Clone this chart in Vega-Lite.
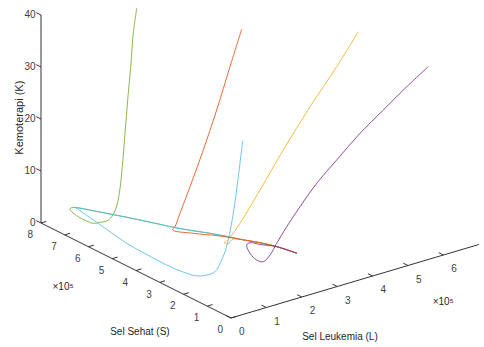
{
  "$schema": "https://vega.github.io/schema/vega-lite/v6.json",
  "width": 484,
  "height": 347,
  "autosize": {"type": "fit", "contains": "padding"},
  "padding": 0,
  "background": "white",
  "config": {"view": {"stroke": null}},
  "datasets": {
    "axes": [
      {"axis": "S", "v0": 0, "v1": 8},
      {"axis": "L", "v0": 0, "v1": 7},
      {"axis": "K", "v0": 0, "v1": 40}
    ],
    "ticks": [
      {"axis": "S", "v": 0}, {"axis": "S", "v": 1}, {"axis": "S", "v": 2}, {"axis": "S", "v": 3},
      {"axis": "S", "v": 4}, {"axis": "S", "v": 5}, {"axis": "S", "v": 6}, {"axis": "S", "v": 7}, {"axis": "S", "v": 8},
      {"axis": "L", "v": 0}, {"axis": "L", "v": 1}, {"axis": "L", "v": 2}, {"axis": "L", "v": 3},
      {"axis": "L", "v": 4}, {"axis": "L", "v": 5}, {"axis": "L", "v": 6},
      {"axis": "K", "v": 0}, {"axis": "K", "v": 10}, {"axis": "K", "v": 20}, {"axis": "K", "v": 30}, {"axis": "K", "v": 40}
    ],
    "titles": [
      {"text": "Sel Sehat (S)", "S": 0.69, "L": -2.11, "K": 0},
      {"text": "Sel Leukemia (L)", "S": -2.71, "L": 1.26, "K": 0},
      {"text": "×10⁵", "S": 4.27, "L": -1.88, "K": 0},
      {"text": "×10⁵", "S": -2.48, "L": 4.33, "K": 0}
    ],
    "ztitle": [
      {"text": "Kemoterapi (K)", "S": 8.9, "L": 0, "K": 18.2}
    ],
    "curves": [
      {"c": "c1", "t": 0, "S": 7.08, "L": 2.086, "K": 39.18},
      {"c": "c1", "t": 1, "S": 7.08, "L": 1.99, "K": 34.56},
      {"c": "c1", "t": 2, "S": 7.08, "L": 1.917, "K": 28.29},
      {"c": "c1", "t": 3, "S": 7.08, "L": 1.832, "K": 22.06},
      {"c": "c1", "t": 4, "S": 7.08, "L": 1.756, "K": 15.81},
      {"c": "c1", "t": 5, "S": 7.08, "L": 1.679, "K": 9.54},
      {"c": "c1", "t": 6, "S": 7.08, "L": 1.595, "K": 4.59},
      {"c": "c1", "t": 7, "S": 7.08, "L": 1.501, "K": 1.9},
      {"c": "c1", "t": 8, "S": 7.08, "L": 1.38, "K": 0.53},
      {"c": "c1", "t": 9, "S": 7.048, "L": 1.218, "K": 0.1},
      {"c": "c1", "t": 10, "S": 7.085, "L": 1.053, "K": 0.1},
      {"c": "c1", "t": 11, "S": 7.08, "L": 0.86, "K": 0.3},
      {"c": "c1", "t": 12, "S": 7.252, "L": 0.789, "K": 0.5},
      {"c": "c1", "t": 13, "S": 7.501, "L": 0.718, "K": 0.9},
      {"c": "c1", "t": 14, "S": 7.731, "L": 0.687, "K": 1.4},
      {"c": "c1", "t": 15, "S": 7.791, "L": 0.679, "K": 1.8},
      {"c": "c1", "t": 16, "S": 7.783, "L": 0.73, "K": 2.0},
      {"c": "c1", "t": 17, "S": 7.689, "L": 0.808, "K": 2.0},
      {"c": "c1", "t": 18, "S": 7.34, "L": 1.026, "K": 1.8},
      {"c": "c1", "t": 19, "S": 6.954, "L": 1.248, "K": 1.6},
      {"c": "c1", "t": 20, "S": 6.568, "L": 1.469, "K": 1.4},
      {"c": "c1", "t": 21, "S": 6.193, "L": 1.669, "K": 1.2},
      {"c": "c1", "t": 22, "S": 5.791, "L": 1.879, "K": 1.0},
      {"c": "c1", "t": 23, "S": 5.384, "L": 2.087, "K": 0.8},
      {"c": "c1", "t": 24, "S": 5.031, "L": 2.302, "K": 0.65},
      {"c": "c1", "t": 25, "S": 4.669, "L": 2.539, "K": 0.5},
      {"c": "c1", "t": 26, "S": 4.261, "L": 2.746, "K": 0.4},
      {"c": "c1", "t": 27, "S": 3.863, "L": 2.93, "K": 0.3},
      {"c": "c1", "t": 28, "S": 3.47, "L": 3.147, "K": 0.2},
      {"c": "c1", "t": 29, "S": 3.02, "L": 3.325, "K": 0.1},
      {"c": "c1", "t": 30, "S": 2.385, "L": 3.464, "K": 0},

      {"c": "c2", "t": 0, "S": 2.535, "L": 2.031, "K": 24.21},
      {"c": "c2", "t": 1, "S": 2.535, "L": 1.907, "K": 17.53},
      {"c": "c2", "t": 2, "S": 2.535, "L": 1.766, "K": 10.78},
      {"c": "c2", "t": 3, "S": 2.535, "L": 1.624, "K": 5.93},
      {"c": "c2", "t": 4, "S": 2.535, "L": 1.545, "K": 4.17},
      {"c": "c2", "t": 5, "S": 2.535, "L": 1.438, "K": 2.46},
      {"c": "c2", "t": 6, "S": 2.535, "L": 1.249, "K": 0.59},
      {"c": "c2", "t": 7, "S": 2.553, "L": 1.035, "K": 0.35},
      {"c": "c2", "t": 8, "S": 2.623, "L": 0.884, "K": 0.3},
      {"c": "c2", "t": 9, "S": 2.77, "L": 0.785, "K": 0.3},
      {"c": "c2", "t": 10, "S": 2.975, "L": 0.745, "K": 0.3},
      {"c": "c2", "t": 11, "S": 3.456, "L": 0.68, "K": 0.35},
      {"c": "c2", "t": 12, "S": 3.979, "L": 0.664, "K": 0.4},
      {"c": "c2", "t": 13, "S": 4.704, "L": 0.67, "K": 0.5},
      {"c": "c2", "t": 14, "S": 5.419, "L": 0.689, "K": 0.6},
      {"c": "c2", "t": 15, "S": 6.239, "L": 0.768, "K": 0.8},
      {"c": "c2", "t": 16, "S": 7.009, "L": 0.813, "K": 1.2},
      {"c": "c2", "t": 17, "S": 7.572, "L": 0.814, "K": 1.7},
      {"c": "c2", "t": 18, "S": 7.747, "L": 0.791, "K": 2.0},
      {"c": "c2", "t": 19, "S": 7.632, "L": 0.855, "K": 2.0},
      {"c": "c2", "t": 20, "S": 7.34, "L": 1.026, "K": 1.8},
      {"c": "c2", "t": 21, "S": 6.954, "L": 1.248, "K": 1.6},
      {"c": "c2", "t": 22, "S": 6.568, "L": 1.469, "K": 1.4},
      {"c": "c2", "t": 23, "S": 6.193, "L": 1.669, "K": 1.2},
      {"c": "c2", "t": 24, "S": 5.791, "L": 1.879, "K": 1.0},
      {"c": "c2", "t": 25, "S": 5.384, "L": 2.087, "K": 0.8},
      {"c": "c2", "t": 26, "S": 5.031, "L": 2.302, "K": 0.65},
      {"c": "c2", "t": 27, "S": 4.669, "L": 2.539, "K": 0.5},
      {"c": "c2", "t": 28, "S": 4.261, "L": 2.746, "K": 0.4},
      {"c": "c2", "t": 29, "S": 3.863, "L": 2.93, "K": 0.3},
      {"c": "c2", "t": 30, "S": 3.47, "L": 3.147, "K": 0.2},
      {"c": "c2", "t": 31, "S": 3.02, "L": 3.325, "K": 0.1},
      {"c": "c2", "t": 32, "S": 2.385, "L": 3.464, "K": 0},

      {"c": "c3", "t": 0, "S": 3.99, "L": 6.273, "K": 33.28},
      {"c": "c3", "t": 1, "S": 3.99, "L": 5.663, "K": 27.78},
      {"c": "c3", "t": 2, "S": 3.99, "L": 4.908, "K": 21.61},
      {"c": "c3", "t": 3, "S": 3.99, "L": 4.154, "K": 14.81},
      {"c": "c3", "t": 4, "S": 3.99, "L": 3.496, "K": 8.44},
      {"c": "c3", "t": 5, "S": 3.99, "L": 2.931, "K": 3.18},
      {"c": "c3", "t": 6, "S": 3.99, "L": 2.649, "K": 1.06},
      {"c": "c3", "t": 7, "S": 3.99, "L": 2.536, "K": 0.48},
      {"c": "c3", "t": 8, "S": 3.99, "L": 2.479, "K": 0.4},
      {"c": "c3", "t": 9, "S": 3.874, "L": 2.514, "K": 0.35},
      {"c": "c3", "t": 10, "S": 4.062, "L": 2.782, "K": 0.3},
      {"c": "c3", "t": 11, "S": 3.863, "L": 2.93, "K": 0.3},
      {"c": "c3", "t": 12, "S": 3.47, "L": 3.147, "K": 0.2},
      {"c": "c3", "t": 13, "S": 3.02, "L": 3.325, "K": 0.1},
      {"c": "c3", "t": 14, "S": 2.385, "L": 3.464, "K": 0},

      {"c": "c4", "t": 0, "S": 5.345, "L": 3.888, "K": 35.46},
      {"c": "c4", "t": 1, "S": 5.345, "L": 3.558, "K": 28.94},
      {"c": "c4", "t": 2, "S": 5.345, "L": 3.182, "K": 21.37},
      {"c": "c4", "t": 3, "S": 5.345, "L": 2.803, "K": 14.44},
      {"c": "c4", "t": 4, "S": 5.345, "L": 2.428, "K": 8.14},
      {"c": "c4", "t": 5, "S": 5.345, "L": 2.145, "K": 3.6},
      {"c": "c4", "t": 6, "S": 5.345, "L": 2.004, "K": 1.31},
      {"c": "c4", "t": 7, "S": 5.345, "L": 1.939, "K": 0.8},
      {"c": "c4", "t": 8, "S": 4.903, "L": 2.224, "K": 0.6},
      {"c": "c4", "t": 9, "S": 4.383, "L": 2.63, "K": 0.45},
      {"c": "c4", "t": 10, "S": 3.863, "L": 2.93, "K": 0.3},
      {"c": "c4", "t": 11, "S": 3.47, "L": 3.147, "K": 0.2},
      {"c": "c4", "t": 12, "S": 3.02, "L": 3.325, "K": 0.1},
      {"c": "c4", "t": 13, "S": 2.385, "L": 3.464, "K": 0},

      {"c": "c5", "t": 0, "S": 1.0, "L": 6.244, "K": 33.44},
      {"c": "c5", "t": 1, "S": 1.15, "L": 5.639, "K": 29.83},
      {"c": "c5", "t": 2, "S": 1.3, "L": 5.175, "K": 26.58},
      {"c": "c5", "t": 3, "S": 1.45, "L": 4.617, "K": 22.88},
      {"c": "c5", "t": 4, "S": 1.6, "L": 4.059, "K": 18.53},
      {"c": "c5", "t": 5, "S": 1.75, "L": 3.595, "K": 14.65},
      {"c": "c5", "t": 6, "S": 1.9, "L": 3.224, "K": 10.56},
      {"c": "c5", "t": 7, "S": 2.05, "L": 2.949, "K": 6.92},
      {"c": "c5", "t": 8, "S": 2.2, "L": 2.767, "K": 3.75},
      {"c": "c5", "t": 9, "S": 2.3, "L": 2.645, "K": 1.52},
      {"c": "c5", "t": 10, "S": 2.387, "L": 2.514, "K": 0.3},
      {"c": "c5", "t": 11, "S": 2.58, "L": 2.457, "K": 0.3},
      {"c": "c5", "t": 12, "S": 3.026, "L": 2.567, "K": 0.35},
      {"c": "c5", "t": 13, "S": 3.502, "L": 2.793, "K": 0.4},
      {"c": "c5", "t": 14, "S": 3.586, "L": 2.943, "K": 0.35},
      {"c": "c5", "t": 15, "S": 3.362, "L": 3.075, "K": 0.25},
      {"c": "c5", "t": 16, "S": 3.02, "L": 3.325, "K": 0.1},
      {"c": "c5", "t": 17, "S": 2.385, "L": 3.464, "K": 0}
    ]
  },
  "layer": [
    {
      "data": {"name": "axes"},
      "transform": [
        {"calculate": "datum.axis === 'S' ? datum.v0 : (datum.axis === 'K' ? 8 : 0)", "as": "Sa"},
        {"calculate": "datum.axis === 'S' ? datum.v1 : (datum.axis === 'K' ? 8 : 0)", "as": "Sb"},
        {"calculate": "datum.axis === 'L' ? datum.v0 : 0", "as": "La"},
        {"calculate": "datum.axis === 'L' ? datum.v1 : 0", "as": "Lb"},
        {"calculate": "datum.axis === 'K' ? datum.v0 : 0", "as": "Ka"},
        {"calculate": "datum.axis === 'K' ? datum.v1 : 0", "as": "Kb"},
        {"calculate": "35.4*datum.La - 23.75*datum.Sa", "as": "px"},
        {"calculate": "11.875*datum.Sa + 10.5*datum.La + 5.2*datum.Ka", "as": "py"},
        {"calculate": "35.4*datum.Lb - 23.75*datum.Sb", "as": "px2"},
        {"calculate": "11.875*datum.Sb + 10.5*datum.Lb + 5.2*datum.Kb", "as": "py2"}
      ],
      "mark": {"type": "rule", "color": "#333333", "strokeWidth": 1},
      "encoding": {
        "x": {"field": "px", "type": "quantitative", "scale": {"domain": [-231, 253]}, "axis": null},
        "y": {"field": "py", "type": "quantitative", "scale": {"domain": [-29, 318]}, "axis": null},
        "x2": {"field": "px2"},
        "y2": {"field": "py2"}
      }
    },
    {
      "data": {"name": "ticks"},
      "transform": [
        {"calculate": "datum.axis === 'S' ? datum.v : (datum.axis === 'K' ? 8 : 0)", "as": "S"},
        {"calculate": "datum.axis === 'L' ? datum.v : 0", "as": "L"},
        {"calculate": "datum.axis === 'K' ? datum.v : 0", "as": "K"},
        {"calculate": "datum.S + (datum.axis === 'S' ? 0 : 0.2)", "as": "S2"},
        {"calculate": "datum.L + (datum.axis === 'S' ? 0.15 : 0)", "as": "L2"},
        {"calculate": "35.4*datum.L - 23.75*datum.S", "as": "px"},
        {"calculate": "11.875*datum.S + 10.5*datum.L + 5.2*datum.K", "as": "py"},
        {"calculate": "35.4*datum.L2 - 23.75*datum.S2", "as": "px2"},
        {"calculate": "11.875*datum.S2 + 10.5*datum.L2 + 5.2*datum.K", "as": "py2"}
      ],
      "mark": {"type": "rule", "color": "#333333", "strokeWidth": 1},
      "encoding": {
        "x": {"field": "px", "type": "quantitative", "scale": {"domain": [-231, 253]}, "axis": null},
        "y": {"field": "py", "type": "quantitative", "scale": {"domain": [-29, 318]}, "axis": null},
        "x2": {"field": "px2"},
        "y2": {"field": "py2"}
      }
    },
    {
      "data": {"name": "ticks"},
      "transform": [
        {"filter": "datum.axis !== 'K'"},
        {"calculate": "datum.axis === 'S' ? datum.v : -0.45", "as": "S"},
        {"calculate": "datum.axis === 'L' ? datum.v : -0.3", "as": "L"},
        {"calculate": "35.4*datum.L - 23.75*datum.S", "as": "px"},
        {"calculate": "11.875*datum.S + 10.5*datum.L", "as": "py"}
      ],
      "mark": {"type": "text", "font": "Liberation Sans", "fontSize": 10, "color": "#404040", "align": "center", "baseline": "middle", "dy": 9},
      "encoding": {
        "x": {"field": "px", "type": "quantitative", "scale": {"domain": [-231, 253]}, "axis": null},
        "y": {"field": "py", "type": "quantitative", "scale": {"domain": [-29, 318]}, "axis": null},
        "text": {"field": "v", "type": "nominal"}
      }
    },
    {
      "data": {"name": "ticks"},
      "transform": [
        {"filter": "datum.axis === 'K'"},
        {"calculate": "35.4*0 - 23.75*8.23", "as": "px"},
        {"calculate": "11.875*8.23 + 5.2*datum.v", "as": "py"}
      ],
      "mark": {"type": "text", "font": "Liberation Sans", "fontSize": 10, "color": "#404040", "align": "right", "baseline": "middle", "dy": 3},
      "encoding": {
        "x": {"field": "px", "type": "quantitative", "scale": {"domain": [-231, 253]}, "axis": null},
        "y": {"field": "py", "type": "quantitative", "scale": {"domain": [-29, 318]}, "axis": null},
        "text": {"field": "v", "type": "nominal"}
      }
    },
    {
      "data": {"name": "titles"},
      "transform": [
        {"calculate": "35.4*datum.L - 23.75*datum.S", "as": "px"},
        {"calculate": "11.875*datum.S + 10.5*datum.L + 5.2*datum.K", "as": "py"}
      ],
      "mark": {"type": "text", "font": "Liberation Sans", "fontSize": 10, "color": "#262626", "align": "center", "baseline": "middle"},
      "encoding": {
        "x": {"field": "px", "type": "quantitative", "scale": {"domain": [-231, 253]}, "axis": null},
        "y": {"field": "py", "type": "quantitative", "scale": {"domain": [-29, 318]}, "axis": null},
        "text": {"field": "text", "type": "nominal"}
      }
    },
    {
      "data": {"name": "ztitle"},
      "transform": [
        {"calculate": "35.4*datum.L - 23.75*datum.S", "as": "px"},
        {"calculate": "11.875*datum.S + 10.5*datum.L + 5.2*datum.K", "as": "py"}
      ],
      "mark": {"type": "text", "font": "Liberation Sans", "fontSize": 11, "color": "#262626", "align": "center", "baseline": "middle", "angle": 270},
      "encoding": {
        "x": {"field": "px", "type": "quantitative", "scale": {"domain": [-231, 253]}, "axis": null},
        "y": {"field": "py", "type": "quantitative", "scale": {"domain": [-29, 318]}, "axis": null},
        "text": {"field": "text", "type": "nominal"}
      }
    },
    {
      "data": {"name": "curves"},
      "transform": [
        {"calculate": "35.4*datum.L - 23.75*datum.S", "as": "px"},
        {"calculate": "11.875*datum.S + 10.5*datum.L + 5.2*datum.K", "as": "py"}
      ],
      "mark": {"type": "line", "strokeWidth": 1, "opacity": 0.85, "interpolate": "catmull-rom"},
      "encoding": {
        "x": {"field": "px", "type": "quantitative", "scale": {"domain": [-231, 253]}, "axis": null},
        "y": {"field": "py", "type": "quantitative", "scale": {"domain": [-29, 318]}, "axis": null},
        "color": {"field": "c", "type": "nominal", "scale": {"domain": ["c1", "c2", "c3", "c4", "c5"], "range": ["#77AC30", "#4DBEEE", "#EDB120", "#D95319", "#7E2F8E"]}, "legend": null},
        "order": {"field": "t", "type": "quantitative"}
      }
    }
  ]
}
